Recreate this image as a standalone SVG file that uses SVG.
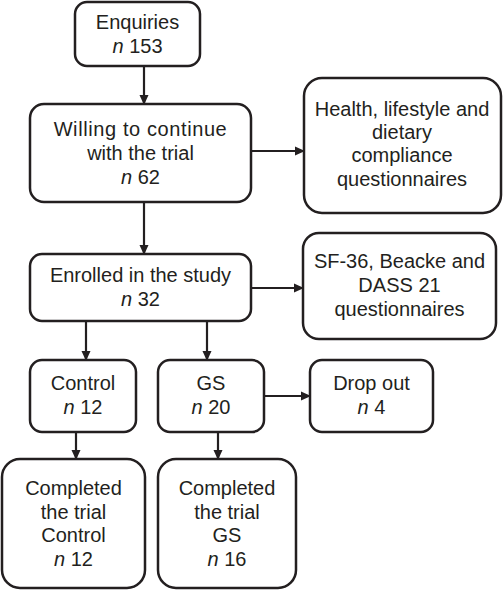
<svg xmlns="http://www.w3.org/2000/svg" width="503" height="590" viewBox="0 0 503 590">
<style>
.box{fill:#fff;stroke:#231f20;stroke-width:2.5}
.t{font-family:"Liberation Sans",Arial,sans-serif;font-size:20px;fill:#231f20;text-anchor:middle}
.i{font-style:italic}
.c{stroke:#231f20;stroke-width:2.2;fill:none;marker-end:url(#ah)}
</style>
<defs>
<marker id="ah" markerWidth="10" markerHeight="10" refX="9" refY="5" orient="auto" markerUnits="userSpaceOnUse">
<path d="M0,0.5 L10,5 L0,9.5 Z" fill="#231f20"/>
</marker>
</defs>
<rect width="503" height="590" fill="#fff"/>
<g id="connectors">
<line class="c" x1="144" y1="66" x2="144" y2="104"/>
<line class="c" x1="251" y1="151" x2="304" y2="151"/>
<line class="c" x1="144" y1="202" x2="144" y2="254"/>
<line class="c" x1="251" y1="288" x2="303" y2="288"/>
<line class="c" x1="86" y1="321" x2="86" y2="360"/>
<line class="c" x1="207" y1="321" x2="207" y2="360"/>
<line class="c" x1="264" y1="396" x2="310" y2="396"/>
<line class="c" x1="76" y1="432" x2="76" y2="459"/>
<line class="c" x1="218" y1="432" x2="218" y2="459"/>
</g>
<g id="enquiries">
<rect class="box" x="75" y="2" width="125" height="64" rx="12"/>
<text class="t" x="137.5" y="29">Enquiries</text>
<text class="t" x="137.5" y="53"><tspan class="i">n</tspan> 153</text>
</g>
<g id="willing">
<rect class="box" x="30" y="104" width="221" height="98" rx="14"/>
<text class="t" x="140.5" y="136" letter-spacing="0.6">Willing to continue</text>
<text class="t" x="140.5" y="160">with the trial</text>
<text class="t" x="140.5" y="184"><tspan class="i">n</tspan> 62</text>
</g>
<g id="health">
<rect class="box" x="304" y="78" width="197" height="135" rx="18"/>
<text class="t" x="402" y="116">Health, lifestyle and</text>
<text class="t" x="402" y="139">dietary</text>
<text class="t" x="402" y="162">compliance</text>
<text class="t" x="402" y="186">questionnaires</text>
</g>
<g id="enrolled">
<rect class="box" x="30" y="254" width="221" height="67" rx="12"/>
<text class="t" x="140.5" y="282">Enrolled in the study</text>
<text class="t" x="140.5" y="306"><tspan class="i">n</tspan> 32</text>
</g>
<g id="sf36">
<rect class="box" x="303" y="233" width="193" height="106" rx="16"/>
<text class="t" x="399.5" y="268">SF-36, Beacke and</text>
<text class="t" x="399.5" y="292">DASS 21</text>
<text class="t" x="399.5" y="316">questionnaires</text>
</g>
<g id="control">
<rect class="box" x="30" y="360" width="106" height="72" rx="12"/>
<text class="t" x="83" y="390">Control</text>
<text class="t" x="83" y="414"><tspan class="i">n</tspan> 12</text>
</g>
<g id="gs">
<rect class="box" x="158" y="360" width="106" height="72" rx="12"/>
<text class="t" x="211" y="390">GS</text>
<text class="t" x="211" y="414"><tspan class="i">n</tspan> 20</text>
</g>
<g id="dropout">
<rect class="box" x="310" y="360" width="123" height="72" rx="12"/>
<text class="t" x="371.5" y="390">Drop out</text>
<text class="t" x="371.5" y="414"><tspan class="i">n</tspan> 4</text>
</g>
<g id="completed-control">
<rect class="box" x="2" y="459" width="143" height="129" rx="18"/>
<text class="t" x="73.5" y="495">Completed</text>
<text class="t" x="73.5" y="519">the trial</text>
<text class="t" x="73.5" y="542">Control</text>
<text class="t" x="73.5" y="566"><tspan class="i">n</tspan> 12</text>
</g>
<g id="completed-gs">
<rect class="box" x="158" y="459" width="138" height="129" rx="18"/>
<text class="t" x="227" y="495">Completed</text>
<text class="t" x="227" y="519">the trial</text>
<text class="t" x="227" y="542">GS</text>
<text class="t" x="227" y="566"><tspan class="i">n</tspan> 16</text>
</g>
</svg>
